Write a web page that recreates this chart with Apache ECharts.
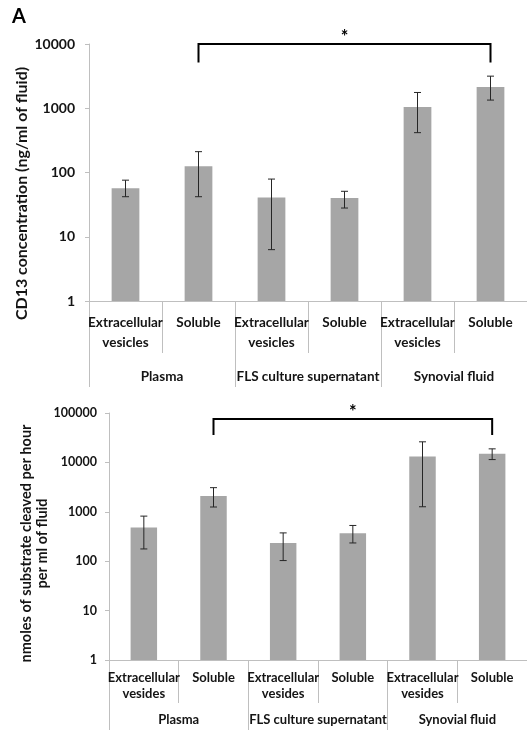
<!DOCTYPE html>
<html>
<head>
<meta charset="utf-8">
<script src="https://cdn.jsdelivr.net/npm/echarts@6/dist/echarts.min.js"></script>
<style>
html,body{margin:0;padding:0;background:#fff;overflow:hidden;}
#c{width:527px;height:732px;}
</style>
</head>
<body>
<div id="c"></div>
<script>
// ---- data ----
const categories = ['Extracellular\nvesicles', 'Soluble', 'Extracellular\nvesicles', 'Soluble', 'Extracellular\nvesicles', 'Soluble'];
const categoriesBottom = ['Extracellular\nvesides', 'Soluble', 'Extracellular\nvesides', 'Soluble', 'Extracellular\nvesides', 'Soluble'];
const groups = ['Plasma', 'FLS culture supernatant', 'Synovial fluid'];

const cd13Mean = [57, 125, 41, 40, 1050, 2150];
const cd13Low  = [42, 42, 6.3, 28, 417, 1340];
const cd13High = [76, 211, 79, 51, 1760, 3160];

const actMean = [482, 2085, 234, 369, 13100, 14900];
const actLow  = [177, 1250, 103, 234, 1265, 11400];
const actHigh = [818, 3080, 374, 529, 26100, 18800];

const topTicks = [1, 10, 100, 1000, 10000];
const bottomTicks = [1, 10, 100, 1000, 10000, 100000];

// significance bracket: [fromIndex, toIndex, barValue, legValue]
const cd13Bracket = [1, 5, 10000, 5150];
const actBracket = [1, 5, 75500, 36000];

const titleTop = 'CD13 concentration (ng/ml of fluid)';
const titleBottom = 'nmoles of substrate cleaved per hour\nper ml of fluid';

// ---- chart ----
const FONT = 'Lato';
const TXT = '#141414';
const GRID_LINE = '#bfbfbf';
const chart = echarts.init(document.getElementById('c'));

function errItem(params, api) {
  const x = api.value(0);
  const lo = api.coord([x, api.value(1)]);
  const hi = api.coord([x, api.value(2)]);
  const w = 3.5;
  const st = {stroke: '#262626', lineWidth: 1};
  return {type: 'group', children: [
    {type: 'line', shape: {x1: hi[0], y1: hi[1], x2: lo[0], y2: lo[1]}, style: st},
    {type: 'line', shape: {x1: hi[0] - w, y1: hi[1], x2: hi[0] + w, y2: hi[1]}, style: st},
    {type: 'line', shape: {x1: lo[0] - w, y1: lo[1], x2: lo[0] + w, y2: lo[1]}, style: st}
  ]};
}
function bracketItem(params, api) {
  const a = api.value(0), b = api.value(1), top = api.value(2), leg = api.value(3);
  const p1 = api.coord([a, leg]), p2 = api.coord([a, top]);
  const p3 = api.coord([b, top]), p4 = api.coord([b, leg]);
  return {type: 'group', children: [
    {type: 'polyline', shape: {points: [p1, p2, p3, p4]}, style: {stroke: '#000', lineWidth: 2, fill: null}},
    {type: 'text', x: (p2[0] + p3[0]) / 2, y: p2[1] - 7,
     style: {text: '*', font: 'bold 18px ' + FONT, fill: '#000', align: 'center', verticalAlign: 'middle'}}
  ]};
}
function errData(lo, hi) { return lo.map((v, i) => [i, v, hi[i]]); }

function yAxis(gridIndex, max, fontSize, margin) {
  return {
    type: 'log', logBase: 10, gridIndex: gridIndex, min: 1, max: max,
    axisLine: {show: true, lineStyle: {color: GRID_LINE, width: 1}},
    axisTick: {show: true, length: 4, lineStyle: {color: GRID_LINE}},
    splitLine: {show: false},
    minorTick: {show: false},
    axisLabel: {fontFamily: FONT, fontWeight: 'bold', fontSize: fontSize, color: TXT, margin: margin,
                formatter: v => String(Math.round(v))}
  };
}
function catAxis(gridIndex, data, tickLen, margin, fontSize, lineHeight, showLine) {
  return {
    type: 'category', gridIndex: gridIndex, data: data, position: 'bottom', boundaryGap: true,
    axisLine: {show: showLine, lineStyle: {color: GRID_LINE}},
    axisTick: {show: true, interval: 0, length: tickLen, lineStyle: {color: GRID_LINE}},
    axisLabel: {interval: 0, margin: margin, fontSize: fontSize, lineHeight: lineHeight,
                fontWeight: 'bold', color: TXT, fontFamily: FONT}
  };
}

const option = {
  animation: false,
  textStyle: {fontFamily: FONT},
  grid: [
    {left: 89, right: -1, top: 44, height: 257},
    {left: 109, right: -1, top: 413, height: 247}
  ],
  xAxis: [
    catAxis(0, categories, 52, 12, 13.5, 20, true),
    catAxis(0, groups, 86, 68, 13.5, 16, false),
    catAxis(1, categoriesBottom, 43, 10, 13, 16, true),
    catAxis(1, groups, 70, 52, 13, 16, false)
  ],
  yAxis: [
    yAxis(0, topTicks[topTicks.length - 1], 14, 14),
    yAxis(1, bottomTicks[bottomTicks.length - 1], 12.5, 12)
  ],
  graphic: [
    {type: 'text', left: 12, top: 7, style: {text: 'A', font: 'bold 20px ' + FONT, fill: '#000'}},
    {type: 'text', x: 22, y: 193.5, rotation: Math.PI / 2,
     style: {text: titleTop, font: 'bold 16px ' + FONT, fill: TXT, align: 'center', verticalAlign: 'middle'}},
    {type: 'text', x: 34, y: 543.5, rotation: Math.PI / 2,
     style: {text: titleBottom, font: 'bold 14.5px ' + FONT, lineHeight: 16, fill: TXT, align: 'center', verticalAlign: 'middle'}}
  ],
  series: [
    {type: 'bar', xAxisIndex: 0, yAxisIndex: 0, data: cd13Mean, barWidth: '38%',
     itemStyle: {color: '#a6a6a6'}},
    {type: 'custom', xAxisIndex: 0, yAxisIndex: 0, data: errData(cd13Low, cd13High),
     encode: {x: 0, y: [1, 2]}, renderItem: errItem, z: 5},
    {type: 'custom', xAxisIndex: 0, yAxisIndex: 0, data: [cd13Bracket], clip: false,
     encode: {x: [0, 1], y: [2, 3]}, renderItem: bracketItem, z: 6},
    {type: 'bar', xAxisIndex: 2, yAxisIndex: 1, data: actMean, barWidth: '38%',
     itemStyle: {color: '#a6a6a6'}},
    {type: 'custom', xAxisIndex: 2, yAxisIndex: 1, data: errData(actLow, actHigh),
     encode: {x: 0, y: [1, 2]}, renderItem: errItem, z: 5},
    {type: 'custom', xAxisIndex: 2, yAxisIndex: 1, data: [actBracket], clip: false,
     encode: {x: [0, 1], y: [2, 3]}, renderItem: bracketItem, z: 6}
  ]
};
chart.setOption(option);
</script>
</body>
</html>
